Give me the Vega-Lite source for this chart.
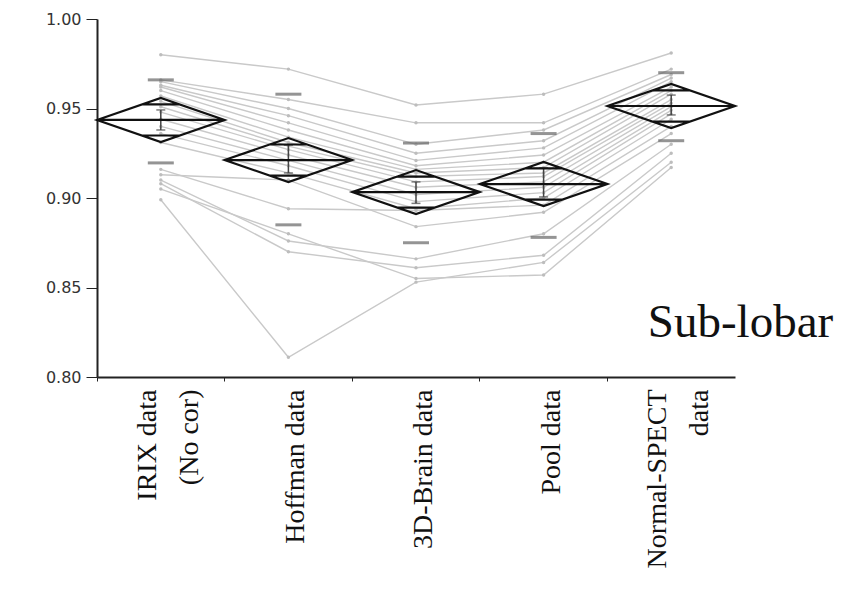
{
  "$schema": "https://vega.github.io/schema/vega-lite/v6.json",
  "width": 638,
  "height": 358,
  "autosize": {"type": "none"},
  "padding": {"left": 97, "top": 19, "right": 111, "bottom": 228},
  "background": "white",
  "config": {"view": {"stroke": null}},
  "datasets": {
    "subjects": [
      {"s": 1, "cat": "IRIX data (No cor)", "v": 0.980}, {"s": 1, "cat": "Hoffman data", "v": 0.972}, {"s": 1, "cat": "3D-Brain data", "v": 0.952}, {"s": 1, "cat": "Pool data", "v": 0.958}, {"s": 1, "cat": "Normal-SPECT data", "v": 0.981},
      {"s": 2, "cat": "IRIX data (No cor)", "v": 0.966}, {"s": 2, "cat": "Hoffman data", "v": 0.955}, {"s": 2, "cat": "3D-Brain data", "v": 0.942}, {"s": 2, "cat": "Pool data", "v": 0.942}, {"s": 2, "cat": "Normal-SPECT data", "v": 0.972},
      {"s": 3, "cat": "IRIX data (No cor)", "v": 0.965}, {"s": 3, "cat": "Hoffman data", "v": 0.950}, {"s": 3, "cat": "3D-Brain data", "v": 0.930}, {"s": 3, "cat": "Pool data", "v": 0.938}, {"s": 3, "cat": "Normal-SPECT data", "v": 0.969},
      {"s": 4, "cat": "IRIX data (No cor)", "v": 0.963}, {"s": 4, "cat": "Hoffman data", "v": 0.946}, {"s": 4, "cat": "3D-Brain data", "v": 0.925}, {"s": 4, "cat": "Pool data", "v": 0.932}, {"s": 4, "cat": "Normal-SPECT data", "v": 0.967},
      {"s": 5, "cat": "IRIX data (No cor)", "v": 0.962}, {"s": 5, "cat": "Hoffman data", "v": 0.942}, {"s": 5, "cat": "3D-Brain data", "v": 0.921}, {"s": 5, "cat": "Pool data", "v": 0.928}, {"s": 5, "cat": "Normal-SPECT data", "v": 0.965},
      {"s": 6, "cat": "IRIX data (No cor)", "v": 0.960}, {"s": 6, "cat": "Hoffman data", "v": 0.938}, {"s": 6, "cat": "3D-Brain data", "v": 0.918}, {"s": 6, "cat": "Pool data", "v": 0.924}, {"s": 6, "cat": "Normal-SPECT data", "v": 0.962},
      {"s": 7, "cat": "IRIX data (No cor)", "v": 0.957}, {"s": 7, "cat": "Hoffman data", "v": 0.934}, {"s": 7, "cat": "3D-Brain data", "v": 0.916}, {"s": 7, "cat": "Pool data", "v": 0.920}, {"s": 7, "cat": "Normal-SPECT data", "v": 0.960},
      {"s": 8, "cat": "IRIX data (No cor)", "v": 0.954}, {"s": 8, "cat": "Hoffman data", "v": 0.931}, {"s": 8, "cat": "3D-Brain data", "v": 0.914}, {"s": 8, "cat": "Pool data", "v": 0.917}, {"s": 8, "cat": "Normal-SPECT data", "v": 0.958},
      {"s": 9, "cat": "IRIX data (No cor)", "v": 0.951}, {"s": 9, "cat": "Hoffman data", "v": 0.929}, {"s": 9, "cat": "3D-Brain data", "v": 0.912}, {"s": 9, "cat": "Pool data", "v": 0.914}, {"s": 9, "cat": "Normal-SPECT data", "v": 0.955},
      {"s": 10, "cat": "IRIX data (No cor)", "v": 0.948}, {"s": 10, "cat": "Hoffman data", "v": 0.927}, {"s": 10, "cat": "3D-Brain data", "v": 0.909}, {"s": 10, "cat": "Pool data", "v": 0.912}, {"s": 10, "cat": "Normal-SPECT data", "v": 0.953},
      {"s": 11, "cat": "IRIX data (No cor)", "v": 0.944}, {"s": 11, "cat": "Hoffman data", "v": 0.924}, {"s": 11, "cat": "3D-Brain data", "v": 0.906}, {"s": 11, "cat": "Pool data", "v": 0.909}, {"s": 11, "cat": "Normal-SPECT data", "v": 0.951},
      {"s": 12, "cat": "IRIX data (No cor)", "v": 0.940}, {"s": 12, "cat": "Hoffman data", "v": 0.921}, {"s": 12, "cat": "3D-Brain data", "v": 0.902}, {"s": 12, "cat": "Pool data", "v": 0.906}, {"s": 12, "cat": "Normal-SPECT data", "v": 0.949},
      {"s": 13, "cat": "IRIX data (No cor)", "v": 0.936}, {"s": 13, "cat": "Hoffman data", "v": 0.918}, {"s": 13, "cat": "3D-Brain data", "v": 0.898}, {"s": 13, "cat": "Pool data", "v": 0.903}, {"s": 13, "cat": "Normal-SPECT data", "v": 0.947},
      {"s": 14, "cat": "IRIX data (No cor)", "v": 0.931}, {"s": 14, "cat": "Hoffman data", "v": 0.914}, {"s": 14, "cat": "3D-Brain data", "v": 0.894}, {"s": 14, "cat": "Pool data", "v": 0.900}, {"s": 14, "cat": "Normal-SPECT data", "v": 0.944},
      {"s": 15, "cat": "IRIX data (No cor)", "v": 0.916}, {"s": 15, "cat": "Hoffman data", "v": 0.894}, {"s": 15, "cat": "3D-Brain data", "v": 0.893}, {"s": 15, "cat": "Pool data", "v": 0.896}, {"s": 15, "cat": "Normal-SPECT data", "v": 0.940},
      {"s": 16, "cat": "IRIX data (No cor)", "v": 0.913}, {"s": 16, "cat": "Hoffman data", "v": 0.910}, {"s": 16, "cat": "3D-Brain data", "v": 0.884}, {"s": 16, "cat": "Pool data", "v": 0.892}, {"s": 16, "cat": "Normal-SPECT data", "v": 0.936},
      {"s": 17, "cat": "IRIX data (No cor)", "v": 0.910}, {"s": 17, "cat": "Hoffman data", "v": 0.876}, {"s": 17, "cat": "3D-Brain data", "v": 0.866}, {"s": 17, "cat": "Pool data", "v": 0.880}, {"s": 17, "cat": "Normal-SPECT data", "v": 0.930},
      {"s": 18, "cat": "IRIX data (No cor)", "v": 0.908}, {"s": 18, "cat": "Hoffman data", "v": 0.870}, {"s": 18, "cat": "3D-Brain data", "v": 0.861}, {"s": 18, "cat": "Pool data", "v": 0.868}, {"s": 18, "cat": "Normal-SPECT data", "v": 0.925},
      {"s": 19, "cat": "IRIX data (No cor)", "v": 0.905}, {"s": 19, "cat": "Hoffman data", "v": 0.880}, {"s": 19, "cat": "3D-Brain data", "v": 0.855}, {"s": 19, "cat": "Pool data", "v": 0.857}, {"s": 19, "cat": "Normal-SPECT data", "v": 0.917},
      {"s": 20, "cat": "IRIX data (No cor)", "v": 0.899}, {"s": 20, "cat": "Hoffman data", "v": 0.811}, {"s": 20, "cat": "3D-Brain data", "v": 0.853}, {"s": 20, "cat": "Pool data", "v": 0.864}, {"s": 20, "cat": "Normal-SPECT data", "v": 0.920}
    ],
    "summary": [
      {"cat": "IRIX data (No cor)", "mean": 0.9436, "sdLo": 0.9196, "sdHi": 0.966, "seLo": 0.938, "seHi": 0.9492},
      {"cat": "Hoffman data", "mean": 0.9212, "sdLo": 0.885, "sdHi": 0.958, "seLo": 0.914, "seHi": 0.9296},
      {"cat": "3D-Brain data", "mean": 0.9033, "sdLo": 0.875, "sdHi": 0.9307, "seLo": 0.897, "seHi": 0.909},
      {"cat": "Pool data", "mean": 0.9078, "sdLo": 0.878, "sdHi": 0.936, "seLo": 0.9006, "seHi": 0.9168},
      {"cat": "Normal-SPECT data", "mean": 0.9514, "sdLo": 0.932, "sdHi": 0.970, "seLo": 0.9464, "seHi": 0.9575}
    ],
    "annotation": [
      {"label": "Sub-lobar", "cat": "Normal-SPECT data", "v": 0.8223}
    ]
  },
  "encoding": {
    "x": {
      "field": "cat",
      "type": "nominal",
      "sort": ["IRIX data (No cor)", "Hoffman data", "3D-Brain data", "Pool data", "Normal-SPECT data"],
      "scale": {"type": "band", "paddingInner": 0, "paddingOuter": 0, "domain": ["IRIX data (No cor)", "Hoffman data", "3D-Brain data", "Pool data", "Normal-SPECT data"]},
      "axis": {
        "title": null,
        "bandPosition": 0,
        "labelAngle": 270,
        "labelAlign": "right",
        "labelBaseline": "middle",
        "labelFont": "Liberation Serif",
        "labelFontSize": 28,
        "labelLineHeight": 42,
        "labelColor": "#111",
        "labelPadding": 8,
        "labelOffset": {"condition": {"test": "datum.value == 'IRIX data (No cor)' || datum.value == 'Normal-SPECT data'", "value": -13}, "value": 8},
        "labelExpr": "datum.label == 'IRIX data (No cor)' ? ['IRIX data', '(No cor)'] : datum.label == 'Normal-SPECT data' ? ['Normal-SPECT', 'data'] : datum.label",
        "tickSize": 4,
        "tickColor": "#222",
        "domainColor": "#222",
        "domainWidth": 2,
        "grid": false
      }
    },
    "y": {
      "field": "v",
      "type": "quantitative",
      "scale": {"domain": [0.8, 1.0], "nice": false, "zero": false},
      "axis": {
        "title": null,
        "values": [0.8, 0.85, 0.9, 0.95, 1.0],
        "format": ".2f",
        "labelFont": "DejaVu Sans",
        "labelFontSize": 16,
        "labelColor": "#333",
        "labelPadding": 5,
        "tickSize": 11,
        "tickColor": "#222",
        "domainColor": "#222",
        "domainWidth": 2,
        "grid": false
      }
    }
  },
  "layer": [
    {
      "data": {"name": "subjects"},
      "mark": {"type": "line", "color": "#c9c9c9", "strokeWidth": 1.4},
      "encoding": {"detail": {"field": "s", "type": "nominal"}}
    },
    {
      "data": {"name": "subjects"},
      "mark": {"type": "point", "filled": true, "color": "#bdbdbd", "size": 12, "opacity": 1}
    },
    {
      "data": {"name": "summary"},
      "mark": {"type": "tick", "color": "#666", "size": 26, "thickness": 3},
      "encoding": {"y": {"field": "sdHi", "type": "quantitative"}}
    },
    {
      "data": {"name": "summary"},
      "mark": {"type": "tick", "color": "#666", "size": 26, "thickness": 3},
      "encoding": {"y": {"field": "sdLo", "type": "quantitative"}}
    },
    {
      "data": {"name": "summary"},
      "mark": {"type": "rule", "color": "#444", "strokeWidth": 1.5},
      "encoding": {"y": {"field": "seLo", "type": "quantitative"}, "y2": {"field": "seHi"}}
    },
    {
      "data": {"name": "summary"},
      "mark": {"type": "tick", "color": "#444", "size": 9, "thickness": 1.5},
      "encoding": {"y": {"field": "seLo", "type": "quantitative"}}
    },
    {
      "data": {"name": "summary"},
      "mark": {"type": "tick", "color": "#444", "size": 9, "thickness": 1.5},
      "encoding": {"y": {"field": "seHi", "type": "quantitative"}}
    },
    {
      "data": {"name": "summary"},
      "mark": {
        "type": "point",
        "shape": "M-1,0L0,-0.345L1,0L0,0.345ZM-1,0L1,0M-0.293,-0.244L0.293,-0.244M-0.293,0.244L0.293,0.244",
        "size": 16282,
        "filled": false,
        "fill": null,
        "stroke": "#111",
        "strokeWidth": 2.2,
        "opacity": 1
      },
      "encoding": {"y": {"field": "mean", "type": "quantitative"}}
    },
    {
      "data": {"name": "annotation"},
      "mark": {"type": "text", "font": "Liberation Serif", "fontSize": 47, "align": "right", "baseline": "alphabetic", "fill": "#111", "dx": 162},
      "encoding": {
        "text": {"field": "label", "type": "nominal"}
      }
    }
  ]
}
